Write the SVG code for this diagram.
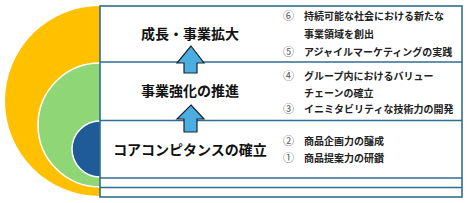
<svg xmlns="http://www.w3.org/2000/svg" width="467" height="203" viewBox="0 0 467 203">
<defs>
<style>
.ttl{font-family:"Noto Sans CJK JP","Noto Sans CJK SC",sans-serif;font-size:14px;font-weight:bold;fill:#111;text-anchor:middle;dominant-baseline:central}
.itm{font-family:"Noto Sans CJK JP","Noto Sans CJK SC",sans-serif;font-size:10px;font-weight:bold;fill:#222;dominant-baseline:central}
.num{fill:#555;font-weight:normal;font-size:11px}
.ln{stroke:#2F6E8E;stroke-width:1.6;fill:none}
.arr{fill:#4AAEE2;stroke:#1B2633;stroke-width:1.2;stroke-linejoin:miter}
</style>
<clipPath id="lh"><rect x="0" y="0" width="100" height="203"/></clipPath>
</defs>
<g id="circles" clip-path="url(#lh)">
<circle cx="100" cy="101" r="95" fill="#FFC000"/>
<circle cx="100" cy="125" r="62" fill="#8FD677" stroke="#fff" stroke-width="1.5"/>
<circle cx="100" cy="149" r="28" fill="#1F5B96" stroke="#fff" stroke-width="1.5"/>
</g>
<g id="table">
<rect x="100" y="6" width="362" height="191" fill="#fff" class="ln"/>
<line x1="100" y1="62" x2="462" y2="62" class="ln"/>
<line x1="100" y1="120.5" x2="462" y2="120.5" class="ln"/>
<line x1="100" y1="178" x2="462" y2="178" class="ln"/>
<line x1="100" y1="187.5" x2="462" y2="187.5" class="ln"/>
</g>
<g id="connectors">
<path class="arr" d="M191 46 L204 63 L197 63 L197 73 L184 73 L184 63 L177 63 Z"/>
<path class="arr" d="M191 105 L204 119 L197 119 L197 132 L184 132 L184 119 L177 119 Z"/>
</g>
<g id="node-growth">
<text class="ttl" x="190" y="33">成長・事業拡大</text>
<text class="itm" x="283" y="15"><tspan class="num">⑥</tspan><tspan x="304">持続可能な社会における新たな</tspan></text>
<text class="itm" x="304" y="33">事業領域を創出</text>
<text class="itm" x="283" y="51"><tspan class="num">⑤</tspan><tspan x="304">アジャイルマーケティングの実践</tspan></text>
</g>
<g id="node-strength">
<text class="ttl" x="190" y="90">事業強化の推進</text>
<text class="itm" x="283" y="75"><tspan class="num">④</tspan><tspan x="304">グループ内におけるバリュー</tspan></text>
<text class="itm" x="304" y="92">チェーンの確立</text>
<text class="itm" x="283" y="108"><tspan class="num">③</tspan><tspan x="304">イニミタビリティな技術力の開発</tspan></text>
</g>
<g id="node-core">
<text class="ttl" x="190" y="149">コアコンピタンスの確立</text>
<text class="itm" x="283" y="140"><tspan class="num">②</tspan><tspan x="304">商品企画力の醸成</tspan></text>
<text class="itm" x="283" y="157"><tspan class="num">①</tspan><tspan x="304">商品提案力の研鑽</tspan></text>
</g>
</svg>
